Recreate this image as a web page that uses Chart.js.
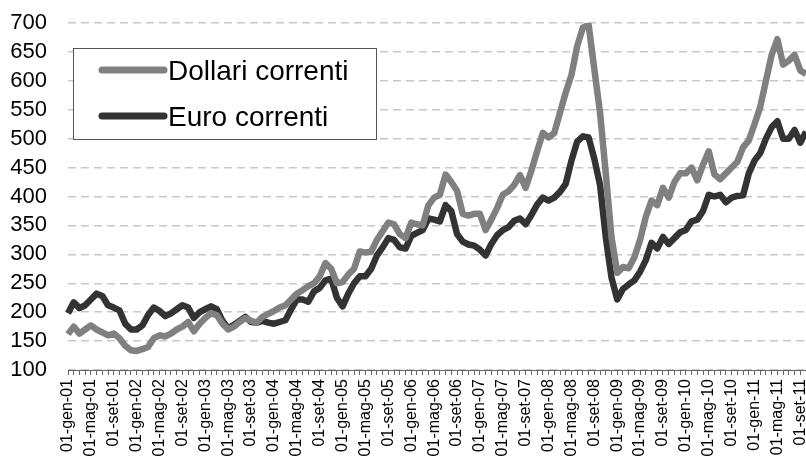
<!DOCTYPE html>
<html>
<head>
<meta charset="utf-8">
<script src="https://cdn.jsdelivr.net/npm/chart.js@4"></script>
<style>
  html, body { margin: 0; padding: 0; background: #fff; }
  #wrap { width: 806px; height: 463px; }
</style>
</head>
<body>
<div id="wrap"><canvas id="prezzi"></canvas></div>
<script>
// Mesi da gen-01 a ott-11 (etichette mensili, ne mostriamo una ogni 4)
var mesi = ['gen', 'feb', 'mar', 'apr', 'mag', 'giu', 'lug', 'ago', 'set', 'ott', 'nov', 'dic'];
var anni = ['01', '02', '03', '04', '05', '06', '07', '08', '09', '10', '11'];
var etichette = [];
anni.forEach(function (a) {
  mesi.forEach(function (m) {
    etichette.push('01-' + m + '-' + a);
  });
});
etichette = etichette.slice(0, 130);

// Dollari correnti
var dollari = [
  162, 175, 163, 170, 177, 170, 165, 160, 163, 155, 142, 134,
  133, 136, 140, 155, 160, 158, 163, 170, 175, 183, 167, 180,
  190, 198, 195, 180, 170, 175, 183, 190, 185, 182, 192, 197,
  202, 208, 212, 222, 232, 238, 245, 250, 262, 285, 275, 250,
  252, 265, 275, 305, 303, 305, 325, 340, 355, 352, 335, 328,
  355, 352, 350, 385, 398, 403, 438, 425, 410, 370, 367, 370,
  370, 342, 360, 380, 403, 409, 420, 437, 415, 445, 478, 510,
  502, 510, 545, 580, 610, 660, 692, 697, 620, 545, 440, 330,
  268, 278, 276, 295, 325, 365, 393, 385, 415, 398, 425, 440,
  440, 450, 428, 455, 478, 438, 430, 440, 450, 460, 485, 497,
  525, 555, 600, 645, 672, 628, 635, 645, 618, 612
];

// Euro correnti
var euro = [
  198, 217, 207, 212, 222, 232, 228, 212, 208, 203, 180, 170,
  170, 177, 195, 208, 202, 193, 198, 205, 212, 208, 190, 200,
  205, 210, 205, 185, 172, 178, 185, 192, 183, 182, 185, 182,
  180, 183, 186, 205, 222, 222, 218, 236, 242, 255, 258, 225,
  210, 232, 250, 262, 262, 275, 298, 312, 328, 325, 312, 310,
  332, 337, 342, 362, 360, 357, 385, 375, 335, 322, 317, 315,
  308, 298, 318, 333, 342, 347, 358, 362, 352, 368, 386, 398,
  393, 398, 408, 422, 462, 495, 504, 502, 465, 420, 330, 260,
  222, 240, 248, 255, 270, 290, 320, 310, 330, 318, 328, 338,
  342, 357, 360, 375, 403, 400, 403, 390, 398, 401, 402, 440,
  462, 475, 500, 520, 530, 500, 500, 515, 493, 512
];

var yMin = 100;
var yMax = 700;
var yStep = 50;

var FONT = '"Liberation Sans", Arial, sans-serif';

// Legenda disegnata dentro l'area del grafico, come nell'originale
var legendaBox = {
  id: 'legendaBox',
  afterDatasetsDraw: function (chart) {
    var ctx = chart.ctx;
    var x0 = 73, y0 = 48, w = 303, h = 91;
    ctx.save();
    ctx.fillStyle = '#fff';
    ctx.fillRect(x0, y0, w, h);
    ctx.strokeStyle = '#555';
    ctx.lineWidth = 1;
    ctx.strokeRect(x0 + 0.5, y0 + 0.5, w, h);
    var righe = [70, 116];
    chart.data.datasets.forEach(function (ds, i) {
      var y = righe[i];
      ctx.strokeStyle = ds.borderColor;
      ctx.lineWidth = 7;
      ctx.lineCap = 'round';
      ctx.beginPath();
      ctx.moveTo(102, y);
      ctx.lineTo(164, y);
      ctx.stroke();
      ctx.fillStyle = '#000';
      ctx.font = '28px ' + FONT;
      ctx.textBaseline = 'middle';
      ctx.textAlign = 'left';
      ctx.fillText(ds.label, 168, y + 2);
    });
    ctx.restore();
  }
};

var ctx = document.getElementById('prezzi').getContext('2d');

var myChart = new Chart(ctx, {
  type: 'line',
  data: {
    labels: etichette,
    datasets: [
      {
        label: 'Dollari correnti',
        data: dollari,
        borderColor: '#808080',
        borderWidth: 6.5,
        pointRadius: 0,
        tension: 0,
        borderJoinStyle: 'round'
      },
      {
        label: 'Euro correnti',
        data: euro,
        borderColor: '#333333',
        borderWidth: 6.5,
        pointRadius: 0,
        tension: 0,
        borderJoinStyle: 'round'
      }
    ]
  },
  options: {
    responsive: true,
    maintainAspectRatio: false,
    animation: false,
    layout: { padding: { top: 23, right: 0, left: 0, bottom: 0 } },
    plugins: {
      legend: { display: false },
      tooltip: { enabled: false }
    },
    scales: {
      x: {
        offset: false,
        afterFit: function (scale) {
          scale.height = 93;
          scale.paddingLeft = 0;
          scale.paddingRight = 0;
        },
        border: { display: true, color: '#666', width: 1 },
        grid: {
          drawOnChartArea: false,
          drawTicks: true,
          tickLength: 5,
          color: '#666'
        },
        ticks: {
          autoSkip: false,
          minRotation: 90,
          maxRotation: 90,
          padding: 4,
          color: '#000',
          font: { family: FONT, size: 16 },
          callback: function (val, i) {
            return i % 4 === 0 ? etichette[i] : '';
          }
        }
      },
      y: {
        min: yMin,
        max: yMax,
        afterFit: function (scale) {
          scale.width = 68;
          scale.paddingTop = 0;
          scale.paddingBottom = 0;
        },
        border: { display: false, dash: [8, 5] },
        grid: {
          color: '#c8c8c8',
          lineWidth: 1.5,
          drawTicks: false
        },
        ticks: {
          stepSize: yStep,
          autoSkip: false,
          padding: 21,
          color: '#000',
          font: { family: FONT, size: 22 }
        }
      }
    }
  },
  plugins: [legendaBox]
});
</script>
</body>
</html>
